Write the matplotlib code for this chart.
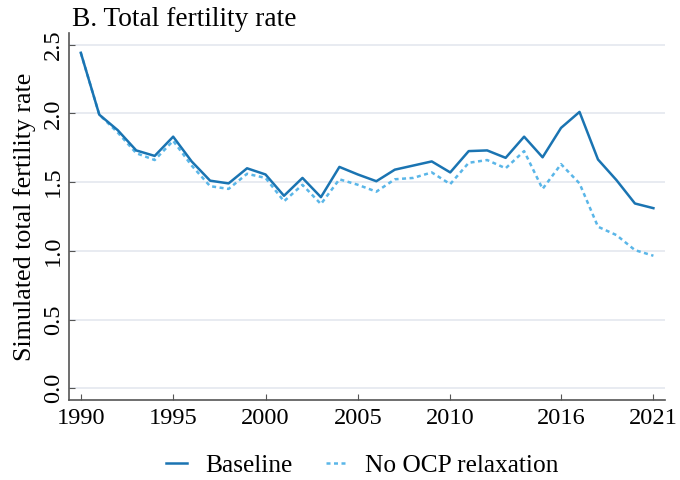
import matplotlib
matplotlib.use("Agg")
import matplotlib.pyplot as plt

years = list(range(1990, 2022))
baseline = [2.44, 1.99, 1.877, 1.73, 1.69, 1.83, 1.65, 1.51, 1.49, 1.60, 1.555,
            1.40, 1.53, 1.39, 1.61, 1.555, 1.506, 1.59, 1.62, 1.65, 1.57,
            1.725, 1.73, 1.676, 1.83, 1.68, 1.894, 2.01, 1.664, 1.514, 1.344, 1.31]
no_ocp = [2.44, 1.99, 1.86, 1.71, 1.66, 1.80, 1.62, 1.47, 1.45, 1.56, 1.53,
          1.36, 1.48, 1.34, 1.52, 1.48, 1.43, 1.52, 1.53, 1.57, 1.485,
          1.64, 1.66, 1.60, 1.725, 1.45, 1.63, 1.49, 1.175, 1.114, 1.005, 0.964]
xticks = [1990, 1995, 2000, 2005, 2010, 2016, 2021]
yticks = [0.0, 0.5, 1.0, 1.5, 2.0, 2.5]

plt.rcParams['font.family'] = ['Liberation Serif', 'DejaVu Serif']

fig = plt.figure(figsize=(6.8, 4.8), dpi=100)
ax = fig.add_axes([0.102, 0.1667, 0.876, 0.764])

for y in yticks:
    ax.axhline(y, color='#e6e9f0', lw=1.3, zorder=0)

ax.plot(years, baseline, color='#1a74b2', lw=1.8, label='Baseline', zorder=3)
ax.plot(years, no_ocp, color='#5ab6e8', lw=1.8, ls=(0, (1.6, 1.4)),
        label='No OCP relaxation', zorder=2)

ax.set_xlim(1989.38, 2021.63)
ax.set_ylim(-0.085, 2.582)
ax.set_xticks(xticks)
ax.set_xticklabels([str(t) for t in xticks], fontsize=17.6)
ax.set_yticks(yticks)
ax.set_yticklabels([f"{t:.1f}" for t in yticks], fontsize=17.6, rotation=90, va='center')
ax.tick_params(direction='in', length=4.3, width=0.8, color='#555555', pad=4)
ax.tick_params(axis='x', pad=6)

for s in ['top', 'right']:
    ax.spines[s].set_visible(False)
for s in ['left', 'bottom']:
    ax.spines[s].set_color('#555555')
    ax.spines[s].set_linewidth(1.2)

ax.set_ylabel('Simulated total fertility rate', fontsize=18.7, labelpad=5)
ax.set_title('B. Total fertility rate', fontsize=19.7, loc='left', x=0.005, pad=5)

ax.legend(loc='upper center', bbox_to_anchor=(0.492, -0.085), ncol=2, frameon=False,
          fontsize=18.3, handlelength=0.8, handletextpad=0.75, columnspacing=1.3)

fig.savefig('out.png', dpi=100)
